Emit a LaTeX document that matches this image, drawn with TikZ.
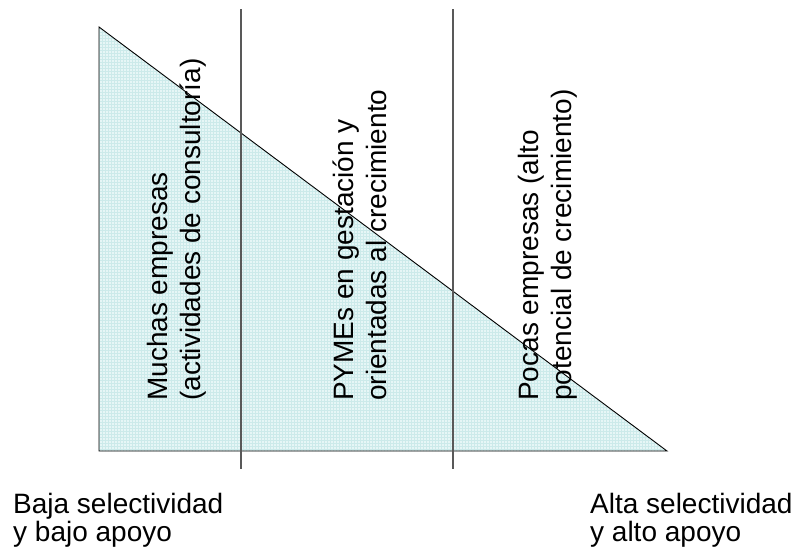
\documentclass[tikz,border=0pt]{standalone}
\usepackage{fontspec}
\setmainfont{Liberation Sans}
\usetikzlibrary{patterns,positioning}

\definecolor{relleno}{RGB}{230,246,246}
\definecolor{reticula}{RGB}{204,234,234}

\begin{document}
\begin{tikzpicture}[
    x=1pt, y=-1pt,
    borde/.style={draw=black, line width=0.9pt},
    divisor/.style={draw=black!65, line width=1.2pt},
    vertical/.style={rotate=90, anchor=base west, inner sep=0pt, align=left, font=\fontsize{28}{33}\selectfont},
    extremo/.style={anchor=base west, inner sep=0pt, align=left, font=\fontsize{28}{28}\selectfont}
]
    \useasboundingbox (0,0) rectangle (795,554);

    % Triangulo
    \coordinate (vertice) at (99,27);
    \coordinate (origen) at (99,451);
    \coordinate (final) at (667,451);
    \fill[relleno] (vertice) -- (origen) -- (final) -- cycle;
    \path[pattern=grid, pattern color=reticula] (vertice) -- (origen) -- (final) -- cycle;
    \draw[borde] (vertice) -- (origen) -- (final) -- cycle;

    % Lineas divisorias
    \coordinate (div1a) at (241,9);
    \coordinate (div1b) at (241,469);
    \coordinate (div2a) at (453,9);
    \coordinate (div2b) at (453,469);
    \draw[divisor] (div1a) -- (div1b);
    \draw[divisor] (div2a) -- (div2b);

    % Textos verticales
    \node[vertical] (muchas) at (200,401) {Muchas empresas\\(actividades de consultoría)};
    \node[vertical] (pymes) at (386,401) {PYMEs en gestación y\\orientadas al crecimiento};
    \node[vertical] (pocas) at (571,401) {Pocas empresas (alto\\potencial de crecimiento)};

    % Extremos
    \node[extremo] (baja) at (13,541) {Baja selectividad\\y bajo apoyo};
    \node[extremo] (alta) at (590,541) {Alta selectividad\\y alto apoyo};
\end{tikzpicture}
\end{document}
